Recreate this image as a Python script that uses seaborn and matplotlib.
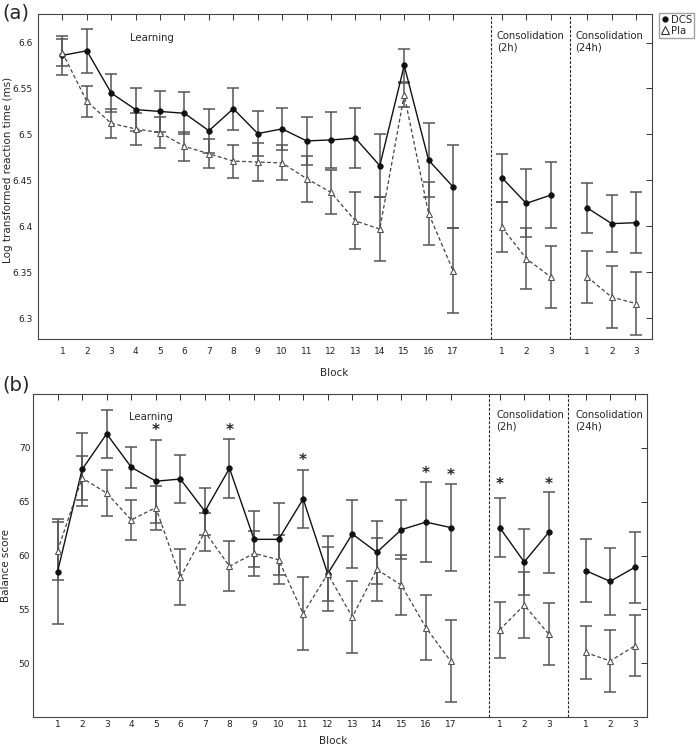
#importing libraries
import pandas as pd
import seaborn as sns
import matplotlib.pyplot as plt
from matplotlib.lines import Line2D

# x positions: learning blocks 1-17, consolidation 2h, consolidation 24h
block_pos = [1, 2, 3, 4, 5, 6, 7, 8, 9, 10, 11, 12, 13, 14, 15, 16, 17,
             19, 20, 21,
             22.5, 23.5, 24.5]
block_phase = ['learn'] * 17 + ['c2h'] * 3 + ['c24h'] * 3
block_labels = ['1', '2', '3', '4', '5', '6', '7', '8', '9', '10', '11', '12',
                '13', '14', '15', '16', '17', '1', '2', '3', '1', '2', '3']

# (a) log transformed reaction time
rt_dcs = [6.586, 6.591, 6.545, 6.527, 6.525, 6.523, 6.504, 6.528, 6.501, 6.506,
          6.493, 6.494, 6.496, 6.466, 6.575, 6.472, 6.443,
          6.453, 6.425, 6.434,
          6.420, 6.403, 6.404]
rt_dcs_err = [0.021, 0.024, 0.021, 0.023, 0.022, 0.023, 0.024, 0.023, 0.024, 0.023,
              0.026, 0.030, 0.033, 0.034, 0.018, 0.040, 0.045,
              0.026, 0.037, 0.036,
              0.027, 0.031, 0.033]
rt_pla = [6.589, 6.536, 6.512, 6.506, 6.502, 6.487, 6.479, 6.471, 6.470, 6.469,
          6.452, 6.437, 6.406, 6.397, 6.543, 6.414, 6.352,
          6.399, 6.365, 6.345,
          6.345, 6.323, 6.316]
rt_pla_err = [0.015, 0.017, 0.016, 0.017, 0.017, 0.016, 0.016, 0.018, 0.021, 0.019,
              0.025, 0.024, 0.031, 0.035, 0.013, 0.034, 0.046,
              0.027, 0.033, 0.034,
              0.028, 0.034, 0.034]
rt_ticks = [6.3, 6.35, 6.4, 6.45, 6.5, 6.55, 6.6]
rt_ticklabels = ['6.3', '6.35', '6.4', '6.45', '6.5', '6.55', '6.6']

# (b) balance score
bal_dcs = [58.5, 68.0, 71.3, 68.2, 66.9, 67.1, 64.1, 68.1, 61.5, 61.5,
           65.25, 58.3, 62.0, 60.3, 62.4, 63.1, 62.6,
           62.6, 59.4, 62.15,
           58.6, 57.6, 58.9]
bal_dcs_err = [4.87, 3.4, 2.23, 1.9, 3.84, 2.2, 2.17, 2.76, 2.6, 3.35,
               2.7, 3.5, 3.2, 2.95, 2.76, 3.75, 4.0,
               2.78, 3.04, 3.76,
               2.95, 3.13, 3.32]
bal_pla = [60.45, 67.2, 65.8, 63.3, 64.45, 57.96, 62.2, 59.0, 60.2, 59.6,
           54.6, 58.3, 54.3, 58.7, 57.25, 53.3, 50.2,
           53.1, 55.4, 52.7,
           51.0, 50.2, 51.6]
bal_pla_err = [2.7, 2.0, 2.17, 1.86, 2.05, 2.6, 1.77, 2.33, 2.08, 2.26,
               3.4, 2.48, 3.35, 2.93, 2.8, 3.0, 3.8,
               2.59, 3.1, 2.86,
               2.47, 2.85, 2.83]
bal_ticks = [50, 55, 60, 65, 70]
bal_ticklabels = ['50', '55', '60', '65', '70']

# significance stars in (b)
star_pos = [5, 8, 11, 16, 17, 19, 21]
star_y = [72.0, 72.0, 69.2, 68.0, 67.8, 67.0, 67.0]

# dashed separators between phases
phase_lines = [18.55, 21.8]

sns.set_style('white')
plt.rcParams['font.family'] = ['DejaVu Sans']

styles = {
    'DCS': dict(color='#111111', lw=1.0, linestyle='-', marker='o', markersize=4,
                markerfacecolor='#111111', markeredgecolor='#111111', markeredgewidth=0.5),
    'Pla': dict(color='#444444', lw=0.9, linestyle=(0, (3, 2)), marker='^', markersize=3.8,
                markerfacecolor='white', markeredgecolor='#555555', markeredgewidth=0.8),
}


def draw_panel(ax, dcs, dcs_err, pla, pla_err):
    df = pd.DataFrame({'pos': block_pos * 2,
                       'mean': dcs + pla,
                       'err': dcs_err + pla_err,
                       'group': ['DCS'] * len(dcs) + ['Pla'] * len(pla),
                       'phase': block_phase * 2})
    # one line per group and phase, so the phases are not joined
    for (grp, ph), d in df.groupby(['group', 'phase'], sort=False):
        ax.errorbar(d['pos'], d['mean'], yerr=d['err'], fmt='none', ecolor='#555555',
                    elinewidth=1.1, capsize=4.5, capthick=1.1, zorder=2)
        sns.lineplot(data=d, x='pos', y='mean', ax=ax, legend=False, zorder=3, **styles[grp])
    for xv in phase_lines:
        ax.axvline(xv, color='#222222', lw=0.8, linestyle=(0, (2.5, 1.5)), zorder=1)
    ax.set_xticks(block_pos)
    ax.set_xticklabels(block_labels)
    ax.tick_params(direction='in', top=True, right=True, length=4, width=0.7,
                   labelsize=6.5, colors='#333333', labelcolor='#222222')
    for sp in ax.spines.values():
        sp.set_color('#444444')
        sp.set_linewidth(0.8)
    ax.set_xlabel('Block', fontsize=7.5)


fig = plt.figure(figsize=(7, 7.46), dpi=100)

# panel (a)
ax_a = fig.add_axes([38 / 700, 1 - 339 / 746, 614 / 700, 325 / 746])
draw_panel(ax_a, rt_dcs, rt_dcs_err, rt_pla, rt_pla_err)
ax_a.set_xlim(0, 25.15)
ax_a.set_ylim(6.2775, 6.631)
ax_a.set_yticks(rt_ticks)
ax_a.set_yticklabels(rt_ticklabels)
ax_a.tick_params(axis='y', pad=4)
ax_a.tick_params(axis='x', pad=6)
ax_a.set_ylabel('Log transformed reaction time (ms)', fontsize=7.5)
ax_a.yaxis.set_label_coords(-0.04, 0.52)
ax_a.xaxis.set_label_coords(0.482, -0.09)
ax_a.text(3.76, 6.605, 'Learning', fontsize=7.3, va='center')
ax_a.text(18.79, 6.6125, 'Consolidation\n(2h)', fontsize=7.2, va='top', linespacing=1.2)
ax_a.text(22.02, 6.6125, 'Consolidation\n(24h)', fontsize=7.2, va='top', linespacing=1.2)
fig.text(2 / 700, 1 - 13 / 746, '(a)', fontsize=14, va='center')

# panel (b)
ax_b = fig.add_axes([33 / 700, 1 - 717 / 746, 614 / 700, 323 / 746])
draw_panel(ax_b, bal_dcs, bal_dcs_err, bal_pla, bal_pla_err)
ax_b.set_xlim(0, 25)
ax_b.set_ylim(45, 75)
ax_b.set_yticks(bal_ticks)
ax_b.set_yticklabels(bal_ticklabels)
ax_b.tick_params(axis='y', pad=2)
ax_b.tick_params(axis='x', pad=2.5)
ax_b.set_ylabel('Balance score', fontsize=7.5)
ax_b.yaxis.set_label_coords(-0.036, 0.47)
ax_b.xaxis.set_label_coords(0.489, -0.058)
ax_b.text(3.9, 72.9, 'Learning', fontsize=7.3, va='center')
ax_b.text(18.87, 73.5, 'Consolidation\n(2h)', fontsize=7.2, va='top', linespacing=1.2)
ax_b.text(22.09, 73.5, 'Consolidation\n(24h)', fontsize=7.2, va='top', linespacing=1.2)
for xs, ys in zip(star_pos, star_y):
    ax_b.annotate('*', (xs, ys), xytext=(0, -6.3), textcoords='offset points',
                  ha='center', va='baseline', fontsize=11, fontweight='bold')
fig.text(2 / 700, 1 - 385 / 746, '(b)', fontsize=14, va='center')

# legend box at the right of panel (a)
handles = [Line2D([], [], linestyle='none', marker='o', markersize=3.5, color='#111111'),
           Line2D([], [], linestyle='none', marker='^', markersize=6, markerfacecolor='white',
                  markeredgecolor='#333333', markeredgewidth=0.8)]
fig.legend(handles, ['DCS', 'Pla'], loc='upper left', bbox_to_anchor=(659 / 700, 1 - 13 / 746),
           frameon=True, fancybox=False, edgecolor='#888888', fontsize=7.3, handlelength=0.7,
           handletextpad=0.3, borderpad=0.2, labelspacing=0.1, borderaxespad=0)

plt.savefig('out.png', dpi=100)
